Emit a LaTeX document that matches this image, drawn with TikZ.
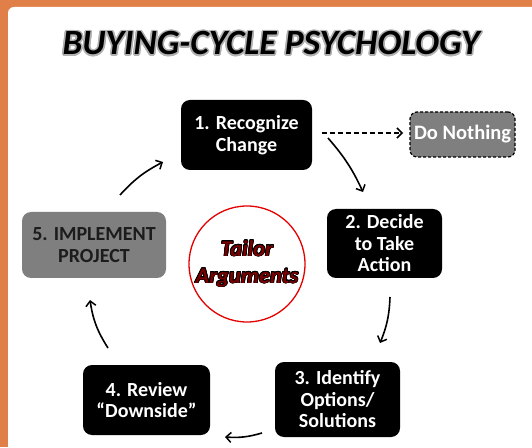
\documentclass[tikz,border=0pt]{standalone}
\usepackage{fontspec}
\setmainfont{Carlito}
\usepackage[copies]{contour}
\usetikzlibrary{arrows.meta}
\definecolor{frameorange}{HTML}{E07F48}
\definecolor{boxgray}{HTML}{7F7F7F}
\definecolor{tailorred}{HTML}{780000}
\definecolor{darktext}{HTML}{1C1C1C}
\begin{document}
\begin{tikzpicture}[x=1pt,y=1pt,
  stepbox/.style={rectangle, rounded corners=9pt, fill=black, text=white,
    font=\fontsize{20}{21.5}\selectfont\bfseries, align=center, inner sep=0pt},
  graybox/.style={stepbox, fill=boxgray, text=darktext},
  flow/.style={line width=1.6pt, -{Straight Barb[length=5pt,width=10pt,line width=1.5pt]}},
  dashflow/.style={line width=1.5pt, dash pattern=on 5pt off 3pt, -{Straight Barb[length=5pt,width=10pt,line width=1.5pt]}},
]
\useasboundingbox (0,0) rectangle (532,447);
% frame
\fill[frameorange] (0,0) rectangle (532,447);
\fill[white] (8,0) [rounded corners=6pt]-- (8,440) [sharp corners]-- (532,440) -- (532,0) -- cycle;

% title
\contourlength{1.6pt}
\node[font=\fontsize{35.5}{40}\selectfont\itshape\bfseries, text=black, inner sep=0pt] (title) at (271,403)
  {\contour{black!30}{BUYING-CYCLE PSYCHOLOGY}};

% steps
\node[stepbox, minimum width=131pt, minimum height=70pt] (s1) at (246.5,312) {1. Recognize\\Change};
\node[stepbox, minimum width=115pt, minimum height=69pt] (s2) at (384.5,203.5) {2. Decide\\to Take\\Action};
\node[stepbox, minimum width=125pt, minimum height=75pt] (s3) at (337.5,47.5) {3. Identify\\Options/\\Solutions};
\node[stepbox, minimum width=127pt, minimum height=70pt] (s4) at (146.5,47) {4. Review\\“Downside”};
\node[graybox, minimum width=144pt, minimum height=66pt] (s5) at (94,202) {5. IMPLEMENT\\PROJECT};
\node[stepbox, fill=boxgray, text=white, draw=black, line width=1.2pt, dash pattern=on 3pt off 2pt,
  rounded corners=7pt, minimum width=105pt, minimum height=45pt,
  font=\fontsize{20.5}{24}\selectfont\bfseries] (dn) at (462.5,312.5) {Do Nothing};

% center circle
\node[circle, draw=red!90!black, line width=1.3pt, fill=white, minimum size=116pt, inner sep=0pt] (tc) at (247,183) {};
\contourlength{0.7pt}
\node[font=\fontsize{22.5}{27}\selectfont\itshape\bfseries, text=tailorred, align=center, inner sep=0pt] (tt) at (tc.center)
  {\contour{black}{Tailor}\\\contour{black}{Arguments}};

% arrow ends
\coordinate (a0s) at (322,314); \coordinate (a0e) at (403,314);
\coordinate (a1s) at (328,309); \coordinate (a1e) at (363,255);
\coordinate (a2s) at (390,150); \coordinate (a2e) at (380,104);
\coordinate (a3s) at (262,14);  \coordinate (a3e) at (225,10);
\coordinate (a4s) at (108,99);  \coordinate (a4e) at (90,147);
\coordinate (a5s) at (120,252); \coordinate (a5e) at (163,285);

\draw[dashflow] (a0s) -- (a0e);
\draw[flow] (a1s) to[bend left=8] (a1e);
\draw[flow] (a2s) to[bend left=10] (a2e);
\draw[flow] (a3s) to[bend left=10] (a3e);
\draw[flow] (a4s) to[bend left=12] (a4e);
\draw[flow] (a5s) to[bend left=10] (a5e);
\end{tikzpicture}
\end{document}
